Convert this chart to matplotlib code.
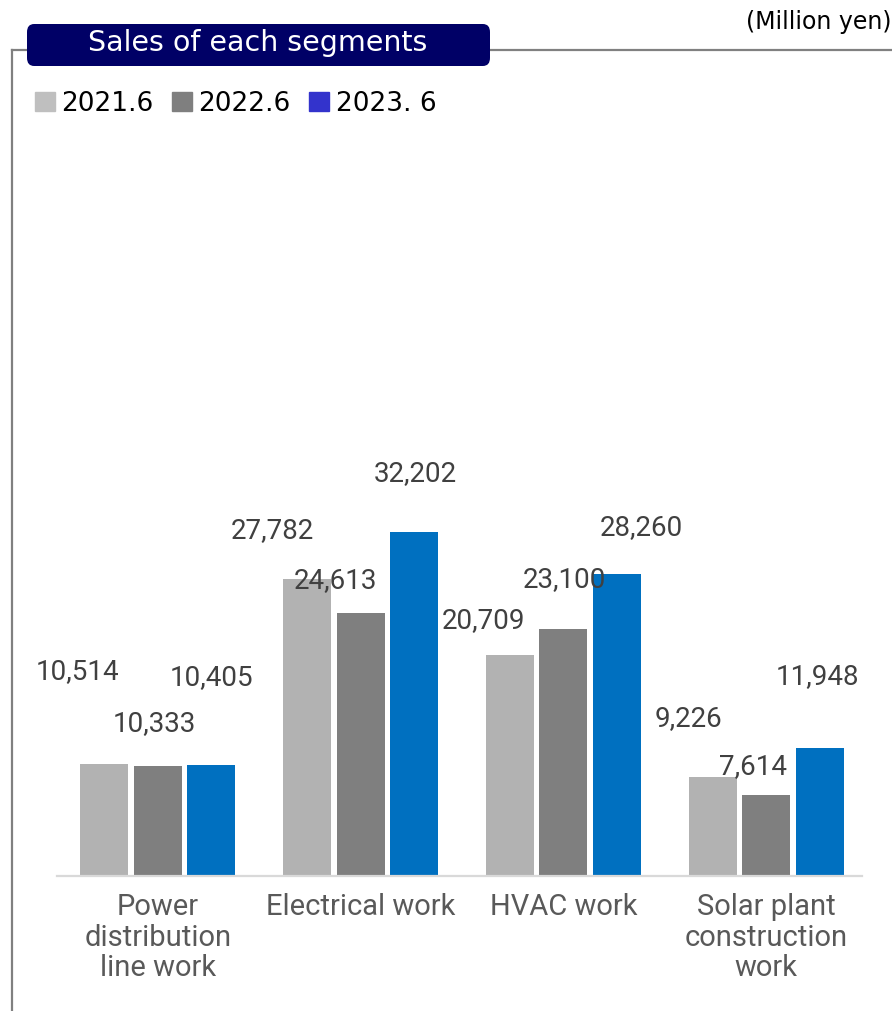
import matplotlib.pyplot as plt
from matplotlib.lines import Line2D
from matplotlib.patches import FancyBboxPatch, Patch
import numpy as np

segments = ['Power\ndistribution\nline work', 'Electrical work', 'HVAC work',
            'Solar plant\nconstruction\nwork']
periods = ['2021.6', '2022.6', '2023. 6']
sales_2021 = [10514, 27782, 20709, 9226]
sales_2022 = [10333, 24613, 23100, 7614]
sales_2023 = [10405, 32202, 28260, 11948]

bar_colors = ['#b2b2b2', '#7f7f7f', '#0070c0']
legend_colors = ['#bfbfbf', '#7f7f7f', '#3333cc']
# value label offsets (x, y) in pixels from each bar's top centre
label_offsets = [
    [(-27, 92), (-35, 49), (-26, 34), (-24, 59)],
    [(-4, 42), (-25, 33), (1, 50), (-13, 28)],
    [(0, 87), (1, 59), (24, 47), (-2, 72)],
]

W, H = 892, 1011
fig = plt.figure(figsize=(W / 100, H / 100), dpi=100)
ax = fig.add_axes([57 / W, 1 - 876 / H, (862 - 57) / W, (876 - 150) / H])

x = np.arange(len(segments))
width = 0.237
step = 0.264
series = [sales_2021, sales_2022, sales_2023]
for i, vals in enumerate(series):
    pos = x + (i - 1) * step
    ax.bar(pos, vals, width, color=bar_colors[i], zorder=2)
    for j, v in enumerate(vals):
        dx, dy = label_offsets[i][j]
        ax.annotate(f'{v:,}', (pos[j], v), xytext=(dx * 0.72, dy * 0.72),
                    textcoords='offset points', ha='center', va='center',
                    fontsize=20, color='#404040', family='Roboto')

ax.set_xlim(-0.498, 3.473)
ax.set_ylim(0, 68000)
ax.set_xticks(x)
ax.set_xticklabels(segments, fontsize=21, color='#595959', family='Roboto',
                   linespacing=1.13)
ax.tick_params(axis='x', length=0, pad=12)
ax.set_yticks([])
for side in ['top', 'right', 'left']:
    ax.spines[side].set_visible(False)
ax.spines['bottom'].set_color('#d9d9d9')
ax.spines['bottom'].set_linewidth(1.6)

handles = [Patch(color=c) for c in legend_colors]
fig.legend(handles, periods, loc='center left', bbox_to_anchor=(35 / W, 1 - 104 / H),
           ncol=3, frameon=False, fontsize=19, handlelength=0.75, handleheight=0.75,
           handletextpad=0.25, columnspacing=0.7, borderpad=0, borderaxespad=0)

# outer frame lines
frame_kw = dict(color='#808080', linewidth=1.6, transform=fig.transFigure)
fig.add_artist(Line2D([12 / W, 12 / W], [0, 1 - 50 / H], **frame_kw))
fig.add_artist(Line2D([12 / W, 1], [1 - 50 / H, 1 - 50 / H], **frame_kw))

# title box
box = FancyBboxPatch((27 / W, 1 - 66 / H), (490 - 27) / W, 42 / H,
                     boxstyle='round,pad=0,rounding_size=0.008',
                     transform=fig.transFigure, facecolor='#000066',
                     edgecolor='none', zorder=3)
fig.add_artist(box)
fig.text(258 / W, 1 - 43 / H, 'Sales of each segments', color='white',
         fontsize=20.5, ha='center', va='center', zorder=4)
fig.text(892 / W, 1 - 22 / H, '(Million yen)', color='#000000', fontsize=17,
         ha='right', va='center')

fig.savefig('out.png', dpi=100)
